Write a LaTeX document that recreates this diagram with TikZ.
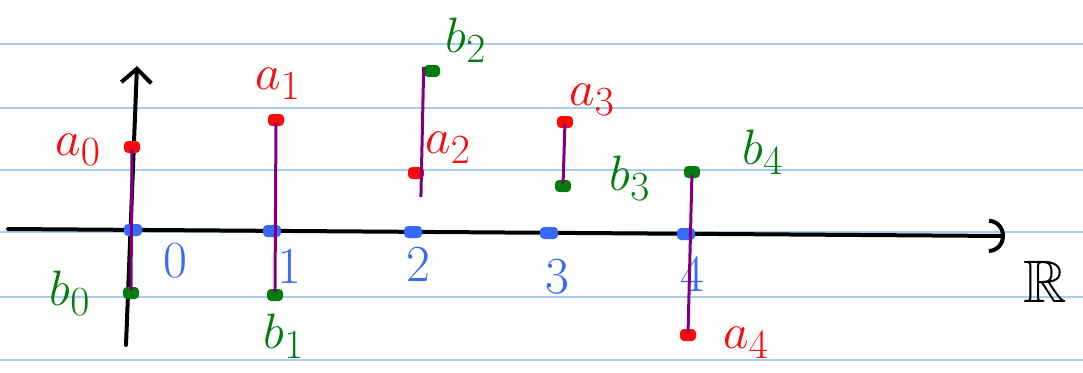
\documentclass[tikz,border=0pt]{standalone}
\usepackage{amssymb}
\usetikzlibrary{arrows.meta}
\definecolor{ruleblue}{RGB}{165,205,245}
\definecolor{penred}{RGB}{250,10,10}
\definecolor{pengreen}{RGB}{0,125,10}
\definecolor{penblue}{RGB}{55,105,250}
\definecolor{penpurple}{RGB}{125,0,130}

\begin{document}
\begin{tikzpicture}[x=.5pt,y=-.5pt,
 rule/.style={draw=ruleblue,line width=1pt},
 axis/.style={line width=2pt,line cap=round},
 dot/.style={rounded corners=2pt,minimum width=8pt,minimum height=6pt,inner sep=0pt},
 ptred/.style={dot,fill=penred},ptgreen/.style={dot,fill=pengreen},ptblue/.style={dot,fill=penblue,minimum width=9pt},
 seg/.style={draw=penpurple,line width=1.5pt,shorten <=-2pt,shorten >=-2pt},
 lred/.style={text=penred,font=\fontsize{30}{30}\selectfont},
 lgreen/.style={text=pengreen,font=\fontsize{30}{30}\selectfont},
 tick/.style={text=penblue,font=\fontsize{26}{26}\selectfont}]
\useasboundingbox (0,0) rectangle (1083,372);
\foreach \yy in {44,108,170,232,297,360} \draw[rule] (0,\yy)--(1083,\yy);

\coordinate (west) at (8,229);
\coordinate (east) at (1005,236);
\coordinate (ybot) at (126,345);
\coordinate (ytop) at (137,66);
\draw[axis,-{Arc Barb[length=8pt,width=17pt,line width=2pt]}] (west)--(east);
\draw[axis,-{Straight Barb[length=7pt,width=15pt,line width=2pt]}] (ybot)--(ytop);
\node[font=\fontsize{30}{30}\selectfont] (R) at (1045,282) {$\mathbb{R}$};

\node[ptblue] (z0) at (133,230) {};
\node[ptblue] (z1) at (272,231) {};
\node[ptblue] (z2) at (413,232) {};
\node[ptblue] (z3) at (549,233) {};
\node[ptblue] (z4) at (686,234) {};
\node[tick] (t0) at (175,261) {0};
\node[tick] (t1) at (289,266) {1};
\node[tick] (t2) at (418,264) {2};
\node[tick] (t3) at (557,277) {3};
\node[tick] (t4) at (692,274) {4};

\node[ptred] (a0) at (132,147) {};
\node[ptgreen] (b0) at (131,293) {};
\node[ptred] (a1) at (276,120) {};
\node[ptgreen] (b1) at (275,295) {};
\node[ptgreen] (b2) at (432,71) {};
\node[ptred] (a2) at (416,173) {};
\coordinate (e2) at (421,193);
\node[ptred] (a3) at (565,122) {};
\node[ptgreen] (b3) at (563,186) {};
\node[ptgreen] (b4) at (692,172) {};
\node[ptred] (a4) at (688,335) {};

\draw[seg] (a0)--(b0);
\draw[seg] (a1)--(b1);
\draw[seg] (b2.west)--(e2);
\draw[seg] (a3)--(b3);
\draw[seg] (b4)--(a4);

\node[lred] (la0) at (78,150) {$a_0$};
\node[lgreen] (lb0) at (70,293) {$b_0$};
\node[lred] (la1) at (278,84) {$a_1$};
\node[lgreen] (lb1) at (284,336) {$b_1$};
\node[lgreen] (lb2) at (466,40) {$b_2$};
\node[lred] (la2) at (448,148) {$a_2$};
\node[lred] (la3) at (592,100) {$a_3$};
\node[lgreen] (lb3) at (630,178) {$b_3$};
\node[lgreen] (lb4) at (763,152) {$b_4$};
\node[lred] (la4) at (746,343) {$a_4$};
\end{tikzpicture}
\end{document}
